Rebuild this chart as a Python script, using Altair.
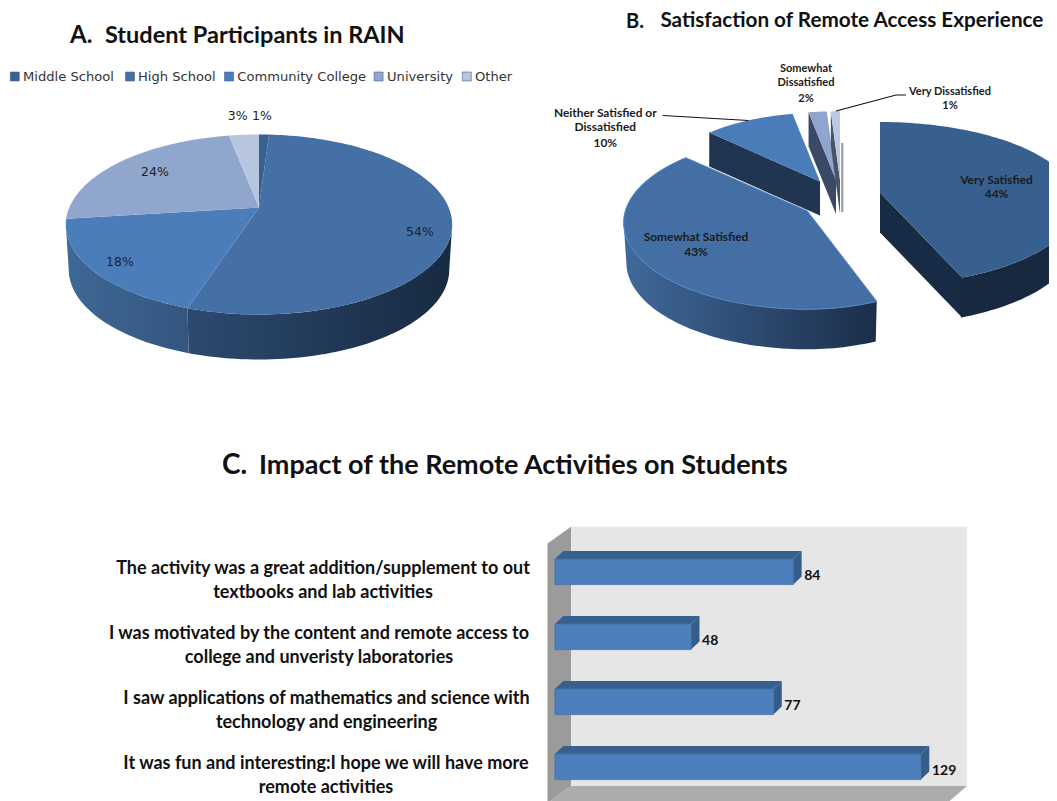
import math
import altair as alt
import pandas as pd

# ---------- values ----------
A_NAMES = ["Middle School", "High School", "Community College", "University", "Other"]
A_VALUES = [1, 54, 18, 24, 3]
B_NAMES = ["Very Satisfied", "Somewhat Satisfied", "Neither Satisfied or Dissatisfied",
           "Somewhat Dissatisfied", "Very Dissatisfied"]
B_VALUES = [44, 43, 10, 2, 1]
C_LABELS = ["The activity was a great addition/supplement to out|textbooks and lab activities",
            "I was motivated by the content and remote access to|college and unveristy laboratories",
            "I saw applications of mathematics and science with|technology and engineering",
            "It was fun and interesting:I hope we will have more|remote activities"]
C_VALUES = [84, 48, 77, 129]

# ---------- layout ----------
W, H = 1041, 793
SX = alt.Scale(domain=[8, 1049], range=[0, W], nice=False, zero=False)
SY = alt.Scale(domain=[8, 801], range=[0, H], nice=False, zero=False)
BX = alt.Scale(domain=[0, 129], range=[554.9 - 8, 920.9 - 8], nice=False, zero=False)
BY = alt.Scale(domain=[0, 4], range=[539.3 - 8, 799.3 - 8], nice=False, zero=False)
C_LABEL_X = [323, 319, 326.5, 326]
FONT = "Lato"


def grad(c0, c1):
    return alt.LinearGradient(gradient="linear", x1=0, x2=1, y1=0, y2=0,
                              stops=[alt.GradientStop(color=c0, offset=0),
                                     alt.GradientStop(color=c1, offset=1)])


def poly(pts, fill, sx=SX, sy=SY, stroke="transparent", sw=0):
    df = pd.DataFrame({"x": [p[0] for p in pts], "y": [p[1] for p in pts], "i": range(len(pts))})
    return alt.Chart(df).mark_line(fill=fill, stroke=stroke, strokeWidth=sw, interpolate="linear", clip=True).encode(
        x=alt.X("x:Q", scale=sx, axis=None),
        y=alt.Y("y:Q", scale=sy, axis=None),
        order="i:Q")


def rim(p, t):
    ax, ay, R, B, k = p[:5]
    r = math.radians(t)
    s = math.sin(r)
    if len(p) > 5 and s > 0:
        R = p[5]
    v = -math.cos(r)
    w = 1 - k * v
    return (ax + R * s / w, ay + B * v / w)


def arc_pts(p, a0, a1):
    n = max(2, int(abs(a1 - a0) / 1.5) + 1)
    return [rim(p, a0 + (a1 - a0) * i / (n - 1)) for i in range(n)]


def top(p, a0, a1):
    return [(p[0], p[1])] + arc_pts(p, a0, a1) + [(p[0], p[1])]


def side(p, a0, a1, D, shrink=0.985):
    ext = math.degrees(math.acos(-p[4]))
    a0, a1 = max(a0, ext), min(a1, 360 - ext)
    upper = arc_pts(p, a0, a1)
    lower = [(p[0] + (x - p[0]) * shrink, y + D) for x, y in reversed(upper)]
    return upper + lower + [upper[0]]


def cut(p, a, D):
    x, y = rim(p, a)
    return [(p[0], p[1]), (x, y), (x, y + D), (p[0], p[1] + D), (p[0], p[1])]


def bounds(values):
    out, s = [], 0
    for v in values:
        out.append((s * 3.6, (s + v) * 3.6))
        s += v
    return out


def text(items, size, weight="normal", font=FONT, align="center", color="#111111"):
    df = pd.DataFrame(items, columns=["x", "y", "t"])
    return alt.Chart(df).mark_text(fontSize=size, fontWeight=weight, font=font, align=align,
                                   baseline="middle", color=color).encode(
        x=alt.X("x:Q", scale=SX, axis=None), y=alt.Y("y:Q", scale=SY, axis=None), text="t:N")


layers = []

# ---------- pie A ----------
PA = (259, 207.5, 189.7, 86.8, 0.189)
ba = bounds(A_VALUES)
layers += [
    poly(side(PA, *ba[1], 45), grad("#2c4a70", "#172a41")),
    poly(side(PA, *ba[2], 45), grad("#3f6896", "#33567f")),
    poly(top(PA, *ba[1]), "#4470a6"),
    poly(top(PA, *ba[2]), "#4b7dbb"),
    poly(top(PA, *ba[3]), "#90a6cd"),
    poly(top(PA, *ba[4]), "#b7c5de"),
    poly(top(PA, *ba[0]), "#3a608f"),
]

# ---------- pie B ----------
bb = bounds(B_VALUES)
PV = (880, 192.5, 195, 80, 0.135)
PS = (807.3, 211, 182, 85, 0.135, 165)
PN = (820, 181.5, 166, 78, 0.135)
PD = (836, 180, 166, 78, 0.135)
PO = (840, 180, 166, 78, 0.135)
layers += [
    poly(cut(PN, bb[2][0], 34), "#1f3552"),
    poly(top(PN, *bb[2]), "#4a7cba"),
    poly([(PO[0] + 1, 143), (PO[0] + 3.5, 143), (PO[0] + 3.5, 212), (PO[0] + 1, 212)], "#a3a6ac"),
    poly(cut(PD, bb[3][0], 34), "#3a4a66"),
    poly(top(PD, *bb[3]), "#8fa5cd"),
    poly(cut(PO, bb[4][0], 34), "#4a5468"),
    poly(top(PO, *bb[4]), "#b9c9e4"),
    poly(side(PS, *bb[1], 40), grad("#40699a", "#1b2e49")),
    poly(top(PS, *bb[1]), "#446fa5", stroke="#5486c4", sw=1),
    poly(cut(PV, bb[0][1], 40), "#182b44"),
    poly(side(PV, *bb[0], 40), "#18283f"),
    poly(top(PV, *bb[0]), "#38608f"),
]

# leader lines
for seg in ([(662.8, 115.5), (748.5, 120.5)],
            [(906, 95), (896, 95), (836, 111)]):
    d = pd.DataFrame({"x": [p[0] for p in seg], "y": [p[1] for p in seg], "i": range(len(seg))})
    layers.append(alt.Chart(d).mark_line(color="#111111", strokeWidth=1.2).encode(
        x=alt.X("x:Q", scale=SX, axis=None), y=alt.Y("y:Q", scale=SY, axis=None), order="i:Q"))

# ---------- panel C walls ----------
layers += [
    poly([(571, 526.8), (967, 526.8), (967, 786), (571, 786)], "#e6e6e6"),
    poly([(547.5, 543.6), (571, 526.8), (571, 786), (547.5, 803.4)], "#9b9b9b"),
    poly([(571, 786), (967, 786), (946.8, 803.4), (547.5, 803.4)], "#acacac"),
]

# ---------- bars ----------
HALF, DY = 12.8 / 65, 8 / 65
DX = 8.4 / (366 / 129)
for i, v in enumerate(C_VALUES):
    c = i + 0.5
    layers.append(poly([(0, c - HALF), (DX, c - HALF - DY), (v + DX, c - HALF - DY), (v, c - HALF)],
                       "#38608f", BX, BY))
    layers.append(poly([(v, c - HALF), (v + DX, c - HALF - DY), (v + DX, c + HALF - DY), (v, c + HALF)],
                       "#355d8c", BX, BY))
cdf = pd.DataFrame({"label": C_LABELS, "value": C_VALUES, "y0": [i + 0.5 - HALF for i in range(4)],
                    "y1": [i + 0.5 + HALF for i in range(4)], "c": [i + 0.5 for i in range(4)],
                    "zero": [0] * 4, "lx": C_LABEL_X})
layers.append(alt.Chart(cdf).mark_bar(color="#4d7fbd", stroke="#44729f", strokeWidth=0.8).encode(
    x=alt.X("zero:Q", scale=BX, axis=None), x2="value:Q",
    y=alt.Y("y0:Q", scale=BY, axis=None), y2="y1:Q"))
layers.append(alt.Chart(cdf).mark_text(align="left", baseline="middle", dx=11, dy=4, font=FONT,
                                       fontWeight="bold", fontSize=14, color="#111111").encode(
    x=alt.X("value:Q", scale=BX, axis=None), y=alt.Y("c:Q", scale=BY, axis=None), text="value:Q"))
layers.append(alt.Chart(cdf).mark_text(align="center", baseline="middle", dy=-2.5, lineBreak="|", lineHeight=23.5,
                                       font=FONT, fontWeight="bold", fontSize=18, color="#111111").encode(
    x=alt.X("lx:Q", scale=SX, axis=None), y=alt.Y("c:Q", scale=BY, axis=None), text="label:N"))

# ---------- titles ----------
layers += [
    text([(70, 36, "A.")], 24, "bold", align="left"),
    text([(105, 36, "Student Participants in RAIN")], 23.5, "bold", align="left"),
    text([(626, 21.5, "B.")], 20, "bold", align="left"),
    text([(660.4, 21, "Satisfaction of Remote Access Experience")], 20.7, "bold", align="left"),
    text([(222, 466, "C.")], 28, "bold", align="left"),
    text([(259, 466, "Impact of the Remote Activities on Students")], 27, "bold", align="left"),
]

# ---------- legend and labels of A ----------
leg_sq = pd.DataFrame({"x": [14.8, 130, 229, 378.6, 466.8], "y": [76.5] * 5,
                       "c": ["#3a608f", "#4470a6", "#4b7dbb", "#90a6cd", "#b7c5de"]})
layers.append(alt.Chart(leg_sq).mark_square(size=80, opacity=1).encode(
    x=alt.X("x:Q", scale=SX, axis=None), y=alt.Y("y:Q", scale=SY, axis=None),
    fill=alt.Fill("c:N", scale=None), stroke=alt.value("#3a608f"), strokeWidth=alt.value(0.6)))
layers.append(text(list(zip([23, 138, 237.3, 387, 475], [77] * 5, A_NAMES)), 13.1,
                   font="DejaVu Sans", align="left", color="#333333"))
layers.append(text([(420, 232, f"{A_VALUES[1]}%"), (120, 262, f"{A_VALUES[2]}%"), (155, 171.5, f"{A_VALUES[3]}%"),
                    (237.7, 115.5, f"{A_VALUES[4]}%"), (262, 115.5, f"{A_VALUES[0]}%")], 12.5,
                   font="DejaVu Sans", color="#222222"))

# ---------- labels of B ----------
layers.append(text([(996.5, 180, B_NAMES[0]), (996.5, 194, f"{B_VALUES[0]}%"),
                    (696, 237, B_NAMES[1]), (696, 252, f"{B_VALUES[1]}%"),
                    (605.3, 112.5, "Neither Satisfied or"), (605.3, 126.5, "Dissatisfied"),
                    (605.3, 143, f"{B_VALUES[2]}%")], 11.9, "bold", color="#1a1a1a"))
layers.append(text([(806, 69, "Somewhat"), (806, 83, "Dissatisfied"), (806, 99, f"{B_VALUES[3]}%"),
                    (950, 92, B_NAMES[4]), (950, 106, f"{B_VALUES[4]}%")], 11, "bold", color="#1a1a1a"))

chart = alt.layer(*layers).resolve_scale(x="independent", y="independent").properties(
    width=W, height=H, padding=0, background="white",
    autosize=alt.AutoSizeParams(type="none")
).configure_view(stroke=None)

chart.save("out.html", embed_options={"renderer": "svg", "actions": False})
